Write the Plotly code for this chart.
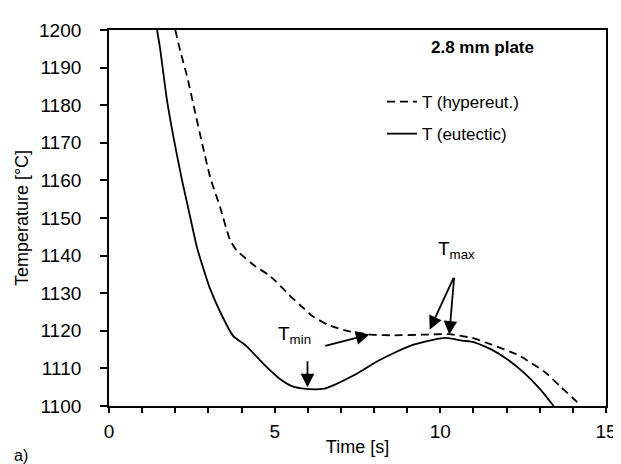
import plotly.graph_objects as go

# Eutectic (solid) curve
t_eut = [1.45, 1.54, 1.74, 1.95, 2.19, 2.39, 2.66, 3.04, 3.40, 3.75, 4.14, 4.64, 5.13, 5.52,
         5.88, 6.20, 6.50, 6.82, 7.42, 8.10, 8.60, 9.19, 9.78, 10.17, 10.66, 11.01, 11.55, 12.04, 12.53, 13.03, 13.42]
T_eut = [1200, 1195.2, 1181.9, 1171.3, 1160.6, 1152.7, 1142.0, 1131.4, 1124.2, 1118.6, 1116.0, 1111.4, 1107.4, 1105.3,
         1104.6, 1104.4, 1104.6, 1105.7, 1108.3, 1111.9, 1114.1, 1116.3, 1117.6, 1118.1, 1117.4, 1117.0, 1115.0, 1112.3, 1108.8, 1104.3, 1100]

# Hypereutectic (dashed) curve
t_hyp = [2.00, 2.13, 2.37, 2.57, 2.82, 3.06, 3.36, 3.65, 3.85, 4.44, 4.80, 5.03, 5.43, 5.75, 6.14, 6.63,
         7.22, 7.91, 8.60, 9.58, 10.27, 10.96, 11.55, 12.34, 13.13, 13.62, 14.11, 14.22]
T_hyp = [1200, 1195.2, 1187.2, 1179.3, 1169.5, 1160.6, 1152.7, 1144.2, 1141.4, 1137.0, 1135.0, 1133.2, 1129.6, 1127.0, 1123.9, 1121.5,
         1119.9, 1119.0, 1118.8, 1119.0, 1119.1, 1118.1, 1116.3, 1113.6, 1109.2, 1105.2, 1101.2, 1100]

x_ticks = [0, 5, 10, 15]
y_ticks = [1100, 1110, 1120, 1130, 1140, 1150, 1160, 1170, 1180, 1190, 1200]

FONT = "Liberation Sans, Arial, sans-serif"
FS = 19

W, H = 621, 464
L, R, T, B = 99, 14, 22, 66
pw, ph = W - L - R, H - T - B


def px_x(x):
    return (x - L) / pw


def px_y(y):
    return (H - B - y) / ph


fig = go.Figure()
fig.add_trace(go.Scatter(x=t_hyp, y=T_hyp, mode="lines", name="T (hypereut.)",
                         line=dict(color="black", width=1.8, dash="8px,5px", shape="spline", smoothing=0.5),
                         legendgroup="a"))
fig.add_trace(go.Scatter(x=t_eut, y=T_eut, mode="lines", name="T (eutectic)",
                         line=dict(color="black", width=1.8, shape="spline", smoothing=0.5),
                         legendgroup="b"))

arrows = [
    # (head_x, head_y, tail_x, tail_y)
    (5.99, 1105.0, 5.99, 1112.3),
    (7.86, 1119.0, 6.48, 1115.9),
    (9.68, 1120.3, 10.42, 1134.5),
    (10.27, 1119.0, 10.42, 1134.5),
]
for hx, hy, tx, ty in arrows:
    fig.add_annotation(x=hx, y=hy, ax=tx, ay=ty, xref="x", yref="y", axref="x", ayref="y",
                       text="", showarrow=True, arrowhead=2, arrowsize=1.5, arrowwidth=1.8,
                       arrowcolor="black")

fig.add_annotation(x=5.6, y=1118.8, xref="x", yref="y", text="T<sub>min</sub>", showarrow=False,
                   xanchor="center", yanchor="middle",
                   font=dict(family=FONT, size=FS, color="black"))
fig.add_annotation(x=10.5, y=1141.6, xref="x", yref="y", text="T<sub>max</sub>", showarrow=False,
                   xanchor="center", yanchor="middle",
                   font=dict(family=FONT, size=FS, color="black"))
fig.add_annotation(x=px_x(481), y=px_y(40), xref="paper", yref="paper", text="<b>2.8 mm plate</b>",
                   showarrow=False, xanchor="center", yanchor="middle",
                   font=dict(family=FONT, size=FS - 2, color="black"))
fig.add_annotation(x=px_x(0), y=px_y(448), xref="paper", yref="paper", text="a)", showarrow=False,
                   xanchor="left", yanchor="middle",
                   font=dict(family=FONT, size=FS - 3, color="black"))

fig.update_layout(
    width=W, height=H,
    margin=dict(l=L, r=R, t=T, b=B),
    paper_bgcolor="white", plot_bgcolor="white",
    font=dict(family=FONT, size=FS, color="black"),
    showlegend=True,
    legend=dict(x=px_x(378), y=px_y(76), xanchor="left", yanchor="top",
                bgcolor="rgba(0,0,0,0)", font=dict(size=FS - 2), tracegroupgap=7,
                traceorder="grouped"),
    xaxis=dict(range=[0, 15], tickvals=x_ticks, ticks="outside", ticklen=5, tickwidth=1.5,
               tickcolor="black", showline=True, linecolor="black", linewidth=1.8, mirror=True,
               showgrid=False, zeroline=False, ticklabelstandoff=2, ticklabeloverflow="allow",
               minor=dict(dtick=1, ticks="outside", ticklen=5, tickwidth=1.5, tickcolor="black", showgrid=False),
               title=dict(text="Time [s]", standoff=0, font=dict(size=FS - 1))),
    yaxis=dict(range=[1100, 1200], tickvals=y_ticks, ticks="outside", ticklen=7, tickwidth=1.5,
               tickcolor="black", showline=True, linecolor="black", linewidth=1.8, mirror=True,
               showgrid=False, zeroline=False, ticklabelstandoff=15,
               title=dict(text="Temperature [°C]", standoff=6, font=dict(size=FS - 1))),
)

fig.write_html("out.html")
